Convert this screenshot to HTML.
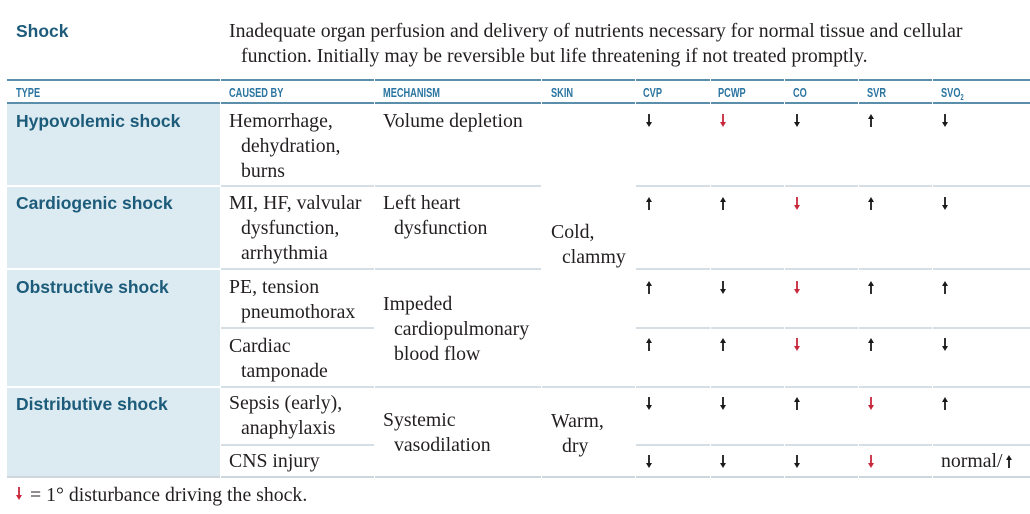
<!DOCTYPE html>
<html>
<head>
<meta charset="utf-8">
<style>
html,body{margin:0;padding:0;background:#fff;}
body{width:1030px;height:514px;position:relative;overflow:hidden;}
.a{position:absolute;white-space:nowrap;}
.s{font-family:"Liberation Serif",serif;font-size:19.8px;line-height:25px;color:#231f20;}
.b{font-family:"Liberation Sans",sans-serif;font-weight:bold;font-size:17.5px;line-height:25px;color:#1c5b7a;}
.h{font-family:"Liberation Sans",sans-serif;font-weight:bold;font-size:13px;line-height:14px;color:#2a74a0;transform:scaleX(0.71);transform-origin:0 0;}
.ln{position:absolute;height:2px;background:#d5dee5;}
.dk{position:absolute;height:2px;background:#5a8eab;}
.sh{position:absolute;left:7px;width:213px;background:#dcebf1;}
.gap{position:absolute;width:1px;background:#fff;top:77px;height:403px;}
.ar{position:absolute;width:8px;height:13px;}
</style>
</head>
<body>

<!-- title -->
<div class="a b" style="left:16px;top:19.4px;">Shock</div>
<div class="a s" style="left:229px;top:18.8px;">Inadequate organ perfusion and delivery of nutrients necessary for normal tissue and cellular</div>
<div class="a s" style="left:241px;top:43.8px;">function. Initially may be reversible but life threatening if not treated promptly.</div>

<!-- shaded type column -->
<div class="sh" style="top:104px;height:81px;"></div>
<div class="sh" style="top:187px;height:81px;"></div>
<div class="sh" style="top:270px;height:116px;"></div>
<div class="sh" style="top:388px;height:88px;"></div>

<!-- header lines -->
<div class="dk" style="left:7px;width:1023px;top:79px;"></div>
<div class="dk" style="left:7px;width:1023px;top:102px;"></div>

<!-- row separators -->
<div class="ln" style="left:220px;width:321px;top:185px;"></div>
<div class="ln" style="left:635px;width:395px;top:185px;"></div>
<div class="ln" style="left:220px;width:321px;top:268px;"></div>
<div class="ln" style="left:635px;width:395px;top:268px;"></div>
<div class="ln" style="left:220px;width:154px;top:327px;"></div>
<div class="ln" style="left:635px;width:395px;top:327px;"></div>
<div class="ln" style="left:220px;width:810px;top:386px;"></div>
<div class="ln" style="left:220px;width:154px;top:444px;"></div>
<div class="ln" style="left:635px;width:395px;top:444px;"></div>
<div class="ln" style="left:7px;width:1023px;top:476px;background:#cdd7de;"></div>

<!-- column gaps -->
<div class="gap" style="left:220px;"></div>
<div class="gap" style="left:374px;"></div>
<div class="gap" style="left:541px;"></div>
<div class="gap" style="left:635px;"></div>
<div class="gap" style="left:710px;"></div>
<div class="gap" style="left:784px;"></div>
<div class="gap" style="left:858px;"></div>
<div class="gap" style="left:932px;"></div>

<!-- headers -->
<div class="a h" style="left:16px;top:86px;">TYPE</div>
<div class="a h" style="left:229px;top:86px;">CAUSED BY</div>
<div class="a h" style="left:383px;top:86px;">MECHANISM</div>
<div class="a h" style="left:551px;top:86px;">SKIN</div>
<div class="a h" style="left:643px;top:86px;">CVP</div>
<div class="a h" style="left:718px;top:86px;">PCWP</div>
<div class="a h" style="left:793px;top:86px;">CO</div>
<div class="a h" style="left:867px;top:86px;">SVR</div>
<div class="a h" style="left:941px;top:86px;">SVO<span style="font-size:8px;position:relative;top:3px;">2</span></div>

<!-- types -->
<div class="a b" style="left:16px;top:109.4px;">Hypovolemic shock</div>
<div class="a b" style="left:16px;top:191.4px;">Cardiogenic shock</div>
<div class="a b" style="left:16px;top:274.9px;">Obstructive shock</div>
<div class="a b" style="left:16px;top:391.9px;">Distributive shock</div>

<!-- caused by -->
<div class="a s" style="left:229px;top:108.8px;">Hemorrhage,</div>
<div class="a s" style="left:241px;top:133.8px;">dehydration,</div>
<div class="a s" style="left:241px;top:158.8px;">burns</div>
<div class="a s" style="left:229px;top:190.8px;">MI, HF, valvular</div>
<div class="a s" style="left:241px;top:215.8px;">dysfunction,</div>
<div class="a s" style="left:241px;top:240.8px;">arrhythmia</div>
<div class="a s" style="left:229px;top:274.8px;">PE, tension</div>
<div class="a s" style="left:241px;top:299.8px;">pneumothorax</div>
<div class="a s" style="left:229px;top:333.8px;">Cardiac</div>
<div class="a s" style="left:241px;top:358.8px;">tamponade</div>
<div class="a s" style="left:229px;top:391.3px;">Sepsis (early),</div>
<div class="a s" style="left:241px;top:416.3px;">anaphylaxis</div>
<div class="a s" style="left:229px;top:448.8px;">CNS injury</div>

<!-- mechanism -->
<div class="a s" style="left:383px;top:108.8px;">Volume depletion</div>
<div class="a s" style="left:383px;top:190.8px;">Left heart</div>
<div class="a s" style="left:394px;top:215.8px;">dysfunction</div>
<div class="a s" style="left:383px;top:291.8px;">Impeded</div>
<div class="a s" style="left:394px;top:316.8px;">cardiopulmonary</div>
<div class="a s" style="left:394px;top:341.8px;">blood flow</div>
<div class="a s" style="left:383px;top:408.3px;">Systemic</div>
<div class="a s" style="left:394px;top:433.3px;">vasodilation</div>

<!-- skin -->
<div class="a s" style="left:551px;top:220.3px;">Cold,</div>
<div class="a s" style="left:562px;top:245.3px;">clammy</div>
<div class="a s" style="left:551px;top:408.8px;">Warm,</div>
<div class="a s" style="left:562px;top:433.8px;">dry</div>

<!-- arrows -->
<svg width="0" height="0" style="position:absolute">
  <defs>
    <g id="dn"><rect x="3.1" y="0" width="1.8" height="9"/><polygon points="1,8 7,8 4,13"/></g>
    <g id="up"><rect x="3.1" y="4" width="1.8" height="9"/><polygon points="1,5 7,5 4,0"/></g>
  </defs>
</svg>

<!-- row1 -->
<svg class="ar" style="left:644.5px;top:114px;" fill="#1a1a1a"><use href="#dn"/></svg>
<svg class="ar" style="left:718.5px;top:114px;" fill="#c8283c"><use href="#dn"/></svg>
<svg class="ar" style="left:793px;top:114px;" fill="#1a1a1a"><use href="#dn"/></svg>
<svg class="ar" style="left:867px;top:114px;" fill="#1a1a1a"><use href="#up"/></svg>
<svg class="ar" style="left:941px;top:114px;" fill="#1a1a1a"><use href="#dn"/></svg>
<!-- row2 -->
<svg class="ar" style="left:644.5px;top:197px;" fill="#1a1a1a"><use href="#up"/></svg>
<svg class="ar" style="left:718.5px;top:197px;" fill="#1a1a1a"><use href="#up"/></svg>
<svg class="ar" style="left:793px;top:197px;" fill="#c8283c"><use href="#dn"/></svg>
<svg class="ar" style="left:867px;top:197px;" fill="#1a1a1a"><use href="#up"/></svg>
<svg class="ar" style="left:941px;top:197px;" fill="#1a1a1a"><use href="#dn"/></svg>
<!-- row3a -->
<svg class="ar" style="left:644.5px;top:281px;" fill="#1a1a1a"><use href="#up"/></svg>
<svg class="ar" style="left:718.5px;top:281px;" fill="#1a1a1a"><use href="#dn"/></svg>
<svg class="ar" style="left:793px;top:281px;" fill="#c8283c"><use href="#dn"/></svg>
<svg class="ar" style="left:867px;top:281px;" fill="#1a1a1a"><use href="#up"/></svg>
<svg class="ar" style="left:941px;top:281px;" fill="#1a1a1a"><use href="#up"/></svg>
<!-- row3b -->
<svg class="ar" style="left:644.5px;top:338px;" fill="#1a1a1a"><use href="#up"/></svg>
<svg class="ar" style="left:718.5px;top:338px;" fill="#1a1a1a"><use href="#up"/></svg>
<svg class="ar" style="left:793px;top:338px;" fill="#c8283c"><use href="#dn"/></svg>
<svg class="ar" style="left:867px;top:338px;" fill="#1a1a1a"><use href="#up"/></svg>
<svg class="ar" style="left:941px;top:338px;" fill="#1a1a1a"><use href="#dn"/></svg>
<!-- row4a -->
<svg class="ar" style="left:644.5px;top:397px;" fill="#1a1a1a"><use href="#dn"/></svg>
<svg class="ar" style="left:718.5px;top:397px;" fill="#1a1a1a"><use href="#dn"/></svg>
<svg class="ar" style="left:793px;top:397px;" fill="#1a1a1a"><use href="#up"/></svg>
<svg class="ar" style="left:867px;top:397px;" fill="#c8283c"><use href="#dn"/></svg>
<svg class="ar" style="left:941px;top:397px;" fill="#1a1a1a"><use href="#up"/></svg>
<!-- row4b -->
<svg class="ar" style="left:644.5px;top:455px;" fill="#1a1a1a"><use href="#dn"/></svg>
<svg class="ar" style="left:718.5px;top:455px;" fill="#1a1a1a"><use href="#dn"/></svg>
<svg class="ar" style="left:793px;top:455px;" fill="#1a1a1a"><use href="#dn"/></svg>
<svg class="ar" style="left:867px;top:455px;" fill="#c8283c"><use href="#dn"/></svg>
<div class="a s" style="left:941px;top:448.8px;">normal/</div>
<svg class="ar" style="left:1005px;top:455px;" fill="#1a1a1a"><use href="#up"/></svg>

<!-- footer -->
<svg class="ar" style="left:15px;top:487px;" fill="#c8283c"><use href="#dn"/></svg>
<div class="a s" style="left:30px;top:483.3px;">= 1° disturbance driving the shock.</div>

</body>
</html>
